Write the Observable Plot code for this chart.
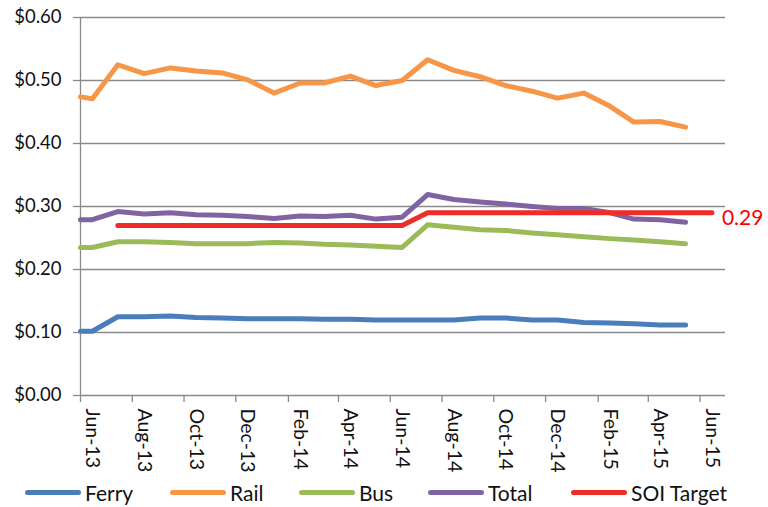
<!DOCTYPE html>
<html>
<head>
<meta charset="utf-8">
<script src="https://cdn.jsdelivr.net/npm/d3@7"></script>
<script src="https://cdn.jsdelivr.net/npm/@observablehq/plot@0.6"></script>
<style>
  body { margin: 0; background: #fff; font-family: Lato, "Open Sans", sans-serif; }
  #wrap { position: relative; width: 768px; height: 507px; }
  #legend { position: absolute; left: 0; top: 478px; width: 768px; height: 29px; }
  .item { position: absolute; top: 0; height: 29px; display: flex; align-items: center; font-size: 21px; color: #111; }
  .sw { display: inline-block; width: 56px; height: 5px; border-radius: 3px; margin-right: 4px; }
</style>
</head>
<body>
<div id="wrap"><div id="chart"></div><div id="legend"></div></div>
<script>
// ---- data ----
const dates = ["2013-06-01","2013-06-15","2013-07-15","2013-08-15","2013-09-15","2013-10-15","2013-11-15","2013-12-15",
  "2014-01-15","2014-02-15","2014-03-15","2014-04-15","2014-05-15","2014-06-15","2014-07-15","2014-08-15",
  "2014-09-15","2014-10-15","2014-11-15","2014-12-15","2015-01-15","2015-02-15","2015-03-15","2015-04-15","2015-05-15"];
const ferry = [0.102,0.102,0.125,0.125,0.126,0.124,0.123,0.122,0.122,0.122,0.121,0.121,0.120,0.120,
  0.120,0.120,0.123,0.123,0.120,0.120,0.116,0.115,0.114,0.112,0.112];
const rail = [0.474,0.471,0.525,0.511,0.520,0.515,0.512,0.501,0.480,0.496,0.496,0.507,0.492,0.500,
  0.533,0.516,0.506,0.492,0.483,0.472,0.480,0.459,0.434,0.435,0.426];
const bus = [0.235,0.235,0.244,0.244,0.243,0.241,0.241,0.241,0.243,0.242,0.240,0.239,0.237,0.235,
  0.271,0.267,0.263,0.262,0.258,0.255,0.252,0.249,0.247,0.244,0.241];
const total = [0.279,0.279,0.292,0.288,0.290,0.287,0.286,0.284,0.281,0.285,0.284,0.286,0.280,0.283,
  0.319,0.311,0.307,0.304,0.300,0.297,0.297,0.290,0.280,0.279,0.275];
const soiDates = ["2013-07-15","2013-08-15","2013-09-15","2013-10-15","2013-11-15","2013-12-15","2014-01-15","2014-02-15",
  "2014-03-15","2014-04-15","2014-05-15","2014-06-15","2014-07-15","2014-08-15","2014-09-15","2014-10-15",
  "2014-11-15","2014-12-15","2015-01-15","2015-02-15","2015-03-15","2015-04-15","2015-05-15","2015-06-15"];
const soi = [0.27,0.27,0.27,0.27,0.27,0.27,0.27,0.27,0.27,0.27,0.27,0.27,
  0.29,0.29,0.29,0.29,0.29,0.29,0.29,0.29,0.29,0.29,0.29,0.29];
const soiLabel = "0.29";
const xTickDates = ["2013-06-01","2013-08-01","2013-10-01","2013-12-01","2014-02-01","2014-04-01","2014-06-01",
  "2014-08-01","2014-10-01","2014-12-01","2015-02-01","2015-04-01","2015-06-01"];
const xLabelDates = ["2013-06-15","2013-08-15","2013-10-15","2013-12-15","2014-02-15","2014-04-15","2014-06-15",
  "2014-08-15","2014-10-15","2014-12-15","2015-02-15","2015-04-15","2015-06-15"];
const yTicks = [0, 0.1, 0.2, 0.3, 0.4, 0.5, 0.6];
const seriesNames = ["Ferry", "Rail", "Bus", "Total", "SOI Target"];
const seriesColors = ["#4a7ebb", "#f79646", "#9bbb59", "#8064a2", "#ee2d28"];

// ---- build ----
const P = s => new Date(s + "T00:00:00Z");
const rows = (vals, ds) => vals.map((v, i) => ({date: P(ds[i]), value: v}));
const seriesData = [rows(ferry, dates), rows(rail, dates), rows(bus, dates), rows(total, dates), rows(soi, soiDates)];
const gridColor = "#8a8a8a";
const fmt = d3.utcFormat("%b-%y");

const lineMarks = seriesData.map((data, i) =>
  Plot.lineY(data, {x: "date", y: "value", stroke: seriesColors[i], strokeWidth: 5,
    strokeLinecap: "round", strokeLinejoin: "round"}));

const lastSoi = seriesData[4][seriesData[4].length - 1];

const chart = Plot.plot({
  width: 768,
  height: 478,
  marginLeft: 80,
  marginRight: 43,
  marginTop: 17,
  marginBottom: 83,
  style: {fontFamily: "Lato, 'Open Sans', sans-serif", fontSize: "18.5px", color: "#111", background: "#fff"},
  x: {type: "utc", domain: [P("2013-06-01"), P("2015-07-01")]},
  y: {domain: [0, 0.6]},
  marks: [
    Plot.ruleY(yTicks, {stroke: gridColor, strokeWidth: 1.3}),
    Plot.ruleX([P("2013-06-01")], {stroke: gridColor, strokeWidth: 1.3}),
    Plot.axisY({ticks: yTicks, tickSize: 7, tickPadding: 12, stroke: gridColor, strokeWidth: 1.3,
      fill: "#111", label: null, tickFormat: d => "$" + d.toFixed(2)}),
    Plot.axisX({ticks: xTickDates.map(P), tickSize: 7, stroke: gridColor, strokeWidth: 1.3,
      label: null, tickFormat: () => ""}),
    Plot.text(xLabelDates.map(P), {x: d => d, frameAnchor: "bottom", rotate: 90, textAnchor: "start",
      lineAnchor: "middle", dy: 13, text: d => fmt(d), fill: "#111", fontSize: 19.5}),
    ...lineMarks,
    Plot.text([lastSoi], {x: "date", y: "value", text: () => soiLabel, textAnchor: "start",
      dx: 10, dy: 5, fill: "#ff0000", fontSize: 21})
  ]
});
document.getElementById("chart").appendChild(chart);

// ---- legend ----
const legendLeft = [25, 170, 299, 428, 571];
const legend = document.getElementById("legend");
seriesNames.forEach((name, i) => {
  const item = document.createElement("div");
  item.className = "item";
  item.style.left = legendLeft[i] + "px";
  const sw = document.createElement("span");
  sw.className = "sw";
  sw.style.background = seriesColors[i];
  item.appendChild(sw);
  item.appendChild(document.createTextNode(name));
  legend.appendChild(item);
});
</script>
</body>
</html>
